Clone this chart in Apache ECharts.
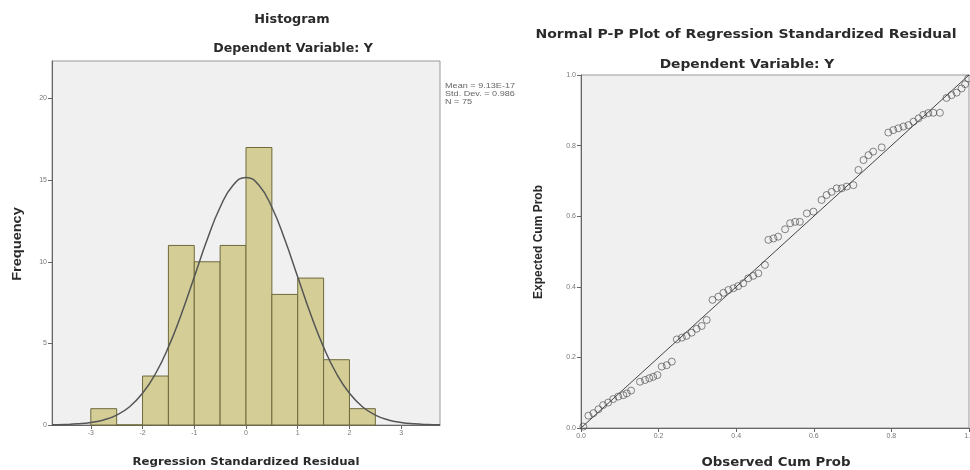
<!DOCTYPE html>
<html>
<head>
<meta charset="utf-8">
<script src="https://cdn.jsdelivr.net/npm/echarts@6/dist/echarts.min.js"></script>
<style>
html,body{margin:0;padding:0;background:#fff;}
#main{width:970px;height:470px;}
</style>
</head>
<body>
<div id="main"></div>
<script>
// histogram bins (width 0.5)
var binStarts = [-3, -2.5, -2, -1.5, -1, -0.5, 0, 0.5, 1, 1.5, 2];
var binCounts = [1, 0, 3, 11, 10, 11, 17, 8, 9, 4, 1];
var binWidth = 0.5;

// fitted normal curve
var curveX = [-3.75, -3.5, -3.25, -3, -2.75, -2.5, -2.25, -2, -1.75, -1.5, -1.25, -1, -0.75, -0.5, -0.25, 0,
              0.25, 0.5, 0.75, 1, 1.25, 1.5, 1.75, 2, 2.25, 2.5, 2.75, 3, 3.25, 3.5, 3.75];
var curveY = [0.01, 0.03, 0.07, 0.15, 0.31, 0.61, 1.12, 1.94, 3.14, 4.77, 6.79, 9.07, 11.36, 13.34, 14.69, 15.17,
              14.69, 13.34, 11.36, 9.07, 6.79, 4.77, 3.14, 1.94, 1.12, 0.61, 0.31, 0.15, 0.07, 0.03, 0.01];

var histXTicks = [-3, -2, -1, 0, 1, 2, 3];
var statsLines = ['Mean = 9.13E-17', 'Std. Dev. = 0.986', 'N = 75'];

// P-P plot points
var ppObserved = [0.006, 0.019, 0.032, 0.045, 0.057, 0.070, 0.083, 0.096, 0.109, 0.118, 0.129, 0.152, 0.165, 0.176,
                  0.186, 0.197, 0.208, 0.221, 0.234, 0.247, 0.260, 0.272, 0.285, 0.298, 0.311, 0.324, 0.339, 0.354,
                  0.367, 0.380, 0.393, 0.405, 0.418, 0.431, 0.444, 0.457, 0.474,
                  0.483, 0.496, 0.508, 0.526, 0.539, 0.552, 0.564, 0.582, 0.599, 0.620, 0.633, 0.646, 0.659, 0.672,
                  0.685, 0.702, 0.715, 0.728, 0.741, 0.753, 0.775, 0.792, 0.805, 0.818, 0.831, 0.844, 0.857, 0.870,
                  0.882, 0.895, 0.908, 0.925, 0.942, 0.955, 0.968, 0.981, 0.990, 0.998];
var ppExpected = [0.004, 0.035, 0.042, 0.053, 0.065, 0.072, 0.082, 0.089, 0.093, 0.098, 0.106, 0.131, 0.136, 0.141,
                  0.145, 0.150, 0.174, 0.178, 0.188, 0.251, 0.256, 0.261, 0.270, 0.281, 0.289, 0.306, 0.363, 0.372,
                  0.383, 0.391, 0.396, 0.402, 0.410, 0.424, 0.431, 0.438, 0.462,
                  0.533, 0.537, 0.542, 0.563, 0.580, 0.584, 0.584, 0.608, 0.613, 0.646, 0.660, 0.669, 0.679, 0.679,
                  0.684, 0.688, 0.731, 0.759, 0.773, 0.783, 0.795, 0.837, 0.844, 0.849, 0.854, 0.858, 0.868, 0.877,
                  0.887, 0.892, 0.893, 0.893, 0.935, 0.943, 0.950, 0.962, 0.974, 0.990];
var ppTicks = [0, 0.2, 0.4, 0.6, 0.8, 1];

var chart = echarts.init(document.getElementById('main'));

var boldFont = 'DejaVu Sans';
var narrowFont = 'Liberation Sans';

function zipPoints(xs, ys) {
	var out = [];
	for (var i = 0; i < xs.length; i++) out.push([xs[i], ys[i]]);
	return out;
}

var histData = [];
for (var i = 0; i < binStarts.length; i++) {
	histData.push([binStarts[i], binStarts[i] + binWidth, binCounts[i]]);
}

function renderBin(params, api) {
	var p0 = api.coord([api.value(0), 0]);
	var p1 = api.coord([api.value(1), api.value(2)]);
	return {
		type: 'rect',
		shape: { x: p0[0], y: p1[1], width: p1[0] - p0[0], height: p0[1] - p1[1] },
		style: { fill: '#d4ce96', stroke: '#6e6a3c', lineWidth: 1 }
	};
}

function axisCommon() {
	return {
		axisLine: { show: true, onZero: false, lineStyle: { color: '#666', width: 1 } },
		axisTick: { show: true, inside: false, length: 4, lineStyle: { color: '#666' } },
		axisLabel: { fontSize: 7, color: '#777', fontFamily: narrowFont, margin: 5 },
		splitLine: { show: false }
	};
}

var hx = axisCommon();
hx.type = 'value'; hx.gridIndex = 0; hx.min = -3.75; hx.max = 3.75;
hx.axisTick.customValues = histXTicks;
hx.axisLabel.customValues = histXTicks;

var hy = axisCommon();
hy.type = 'value'; hy.gridIndex = 0; hy.min = 0; hy.max = 22.3; hy.interval = 5;
hy.axisLabel.showMaxLabel = false;

var px = axisCommon();
px.type = 'value'; px.gridIndex = 1; px.min = 0; px.max = 1;
px.axisTick.customValues = ppTicks;
px.axisLabel.customValues = ppTicks;
px.axisLabel.formatter = function (v) { return v.toFixed(1); };

var py = axisCommon();
py.type = 'value'; py.gridIndex = 1; py.min = 0; py.max = 1;
py.axisTick.customValues = ppTicks;
py.axisLabel.customValues = ppTicks;
py.axisLabel.formatter = function (v) { return v.toFixed(1); };

// stretch: SPSS export is wider than tall, so text is widened a little
function label(text, x, y, size, font, stretch, rotate) {
	return {
		type: 'text', x: x, y: y, rotation: rotate ? Math.PI / 2 : 0,
		scaleX: stretch || 1,
		style: {
			text: text, fill: '#2a2a2a', fontSize: size, fontWeight: 'bold', fontFamily: font,
			align: 'center', verticalAlign: 'middle'
		}
	};
}

chart.setOption({
	animation: false,
	backgroundColor: '#fff',
	grid: [
		{ left: 52, top: 61, width: 388, height: 364, containLabel: false, outerBoundsMode: 'none', show: true,
		  backgroundColor: '#f0f0f0', borderColor: '#999', borderWidth: 1 },
		{ left: 581, top: 75, width: 388, height: 353, containLabel: false, outerBoundsMode: 'none', show: true,
		  backgroundColor: '#f0f0f0', borderColor: '#999', borderWidth: 1 }
	],
	xAxis: [hx, px],
	yAxis: [hy, py],
	graphic: [
		label('Histogram', 292, 20, 12, boldFont, 1.07),
		label('Dependent Variable: Y', 293, 49, 12, boldFont, 1.05),
		label('Frequency', 17, 244, 13, narrowFont, 1.12, true),
		label('Regression Standardized Residual', 246, 462, 11, boldFont, 1.07),
		label('Normal P-P Plot of Regression Standardized Residual', 746, 35, 12, boldFont, 1.17),
		label('Dependent Variable: Y', 747, 65, 12, boldFont, 1.15),
		label('Expected Cum Prob', 539, 242, 12, narrowFont, 1, true),
		label('Observed Cum Prob', 776, 463, 12, boldFont, 1.11),
		{
			type: 'text', x: 445, y: 82, scaleX: 1.3,
			style: {
				text: statsLines.join('\n'), fill: '#666', fontSize: 7, lineHeight: 8,
				fontFamily: narrowFont, align: 'left', verticalAlign: 'top'
			}
		}
	],
	series: [
		{
			type: 'custom', xAxisIndex: 0, yAxisIndex: 0,
			renderItem: renderBin, data: histData, z: 2
		},
		{
			type: 'line', xAxisIndex: 0, yAxisIndex: 0, smooth: true, showSymbol: false,
			data: zipPoints(curveX, curveY),
			lineStyle: { color: '#555', width: 1.5 }, z: 3
		},
		{
			type: 'line', xAxisIndex: 1, yAxisIndex: 1, showSymbol: false,
			data: [[0, 0], [1, 1]],
			lineStyle: { color: '#444', width: 1 }, z: 2
		},
		{
			type: 'scatter', xAxisIndex: 1, yAxisIndex: 1,
			data: zipPoints(ppObserved, ppExpected),
			symbol: 'circle', symbolSize: 7,
			itemStyle: { color: 'rgba(0,0,0,0)', borderColor: '#444', borderWidth: 0.8 }, z: 3
		}
	]
});
</script>
</body>
</html>
